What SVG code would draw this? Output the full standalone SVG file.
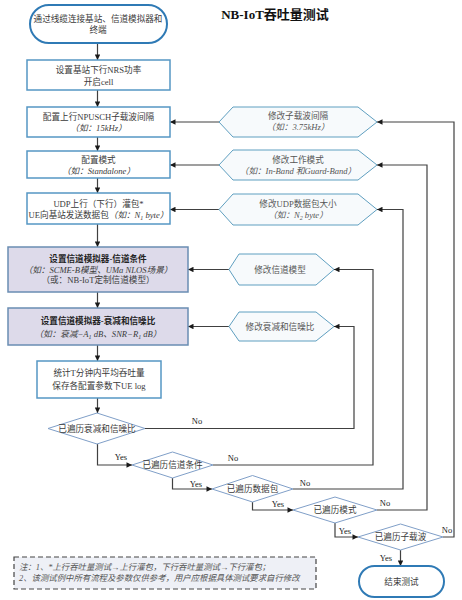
<svg xmlns="http://www.w3.org/2000/svg" width="462" height="600" viewBox="0 0 462 600">
<defs>
<marker id="arr" viewBox="0 0 10 10" refX="10" refY="5" markerWidth="6" markerHeight="5.5" markerUnits="userSpaceOnUse" orient="auto">
<path d="M0,0 L10,5 L0,10 z" fill="#1a1a1a"/>
</marker>
<style>
text{font-family:"Liberation Serif","Noto Sans CJK SC",serif;font-size:8.6px;fill:#3a3a3a;text-anchor:middle}
.t{font-size:13px;font-weight:bold;fill:#111}
.b{font-weight:bold;fill:#222}
.i{font-style:italic}
.h{fill:#555}
.yn{font-size:8.5px;fill:#222}
.note{font-size:8.4px;fill:#555;font-style:italic;text-anchor:start}
.box{fill:#fff;stroke:#5597c4;stroke-width:1.5}
.sh{fill:#dddaea;stroke:#6a8db3;stroke-width:1.5}
.term{fill:#fff;stroke:#2f7ab5;stroke-width:2}
.hex{fill:#f7fafc;stroke:#5f9fc0;stroke-width:1}
.dia{fill:#fff;stroke:#809fc8;stroke-width:1}
.ln{fill:none;stroke:#404040;stroke-width:1.2}
.ar{fill:none;stroke:#404040;stroke-width:1.2;marker-end:url(#arr)}
</style>
</defs>
<rect width="462" height="600" fill="#fff"/>
<text class="t" x="275" y="19">NB-IoT吞吐量测试</text>

<g id="connectors">
<line class="ar" x1="97.5" y1="43" x2="97.5" y2="60"/>
<line class="ar" x1="97.5" y1="90" x2="97.5" y2="107"/>
<line class="ar" x1="97.5" y1="137" x2="97.5" y2="151"/>
<line class="ar" x1="97.5" y1="178" x2="97.5" y2="193"/>
<line class="ar" x1="97.5" y1="224" x2="97.5" y2="247"/>
<line class="ar" x1="97.5" y1="292" x2="97.5" y2="308"/>
<line class="ar" x1="97.5" y1="345" x2="97.5" y2="361"/>
<line class="ar" x1="97.5" y1="398" x2="97.5" y2="413"/>
<line class="ar" x1="219" y1="122" x2="170" y2="122"/>
<line class="ar" x1="219" y1="165" x2="170" y2="165"/>
<line class="ar" x1="219" y1="209.5" x2="170" y2="209.5"/>
<line class="ar" x1="229" y1="269.5" x2="188" y2="269.5"/>
<line class="ar" x1="229" y1="326.5" x2="188" y2="326.5"/>
<polyline class="ar" points="145,428.5 354,428.5 354,326.5 334,326.5"/>
<polyline class="ar" points="213,465 373,465 373,269.5 334,269.5"/>
<polyline class="ar" points="293,489 403,489 403,209.5 377,209.5"/>
<polyline class="ar" points="377,510 427,510 427,165 377,165"/>
<polyline class="ar" points="443,537 454,537 454,122 377,122"/>
<polyline class="ar" points="97.5,444 97.5,465 132,465"/>
<polyline class="ar" points="172.5,478 172.5,489 212,489"/>
<polyline class="ar" points="252.5,502 252.5,510 293,510"/>
<polyline class="ar" points="335,523 335,537 358,537"/>
<line class="ar" x1="400.5" y1="550" x2="400.5" y2="566"/>
<text class="yn" x="121" y="460">Yes</text>
<text class="yn" x="196" y="486.5">Yes</text>
<text class="yn" x="278" y="506.5">Yes</text>
<text class="yn" x="345" y="533.5">Yes</text>
<text class="yn" x="386" y="561">Yes</text>
<text class="yn" x="197" y="424">No</text>
<text class="yn" x="233" y="461">No</text>
<text class="yn" x="305" y="486">No</text>
<text class="yn" x="385" y="506">No</text>
<text class="yn" x="447" y="533">No</text>
</g>

<g id="start">
<rect class="term" x="30" y="5" width="137" height="38" rx="19"/>
<text x="98" y="21.5">通过线缆连接基站、信道模拟器和</text>
<text x="98" y="33">终端</text>
</g>
<g id="nrs">
<rect class="box" x="27" y="60" width="143" height="30"/>
<text x="98.5" y="73">设置基站下行NRS功率</text>
<text x="98.5" y="84.5">开启cell</text>
</g>
<g id="npusch">
<rect class="box" x="27" y="107" width="143" height="30"/>
<text x="98.5" y="120">配置上行NPUSCH子载波间隔</text>
<text class="i" x="98.5" y="131">（如：15kHz）</text>
</g>
<g id="mode">
<rect class="box" x="27" y="151" width="143" height="27"/>
<text x="98.5" y="162.5">配置模式</text>
<text class="i" x="98.5" y="174">（如：Standalone）</text>
</g>
<g id="udp">
<rect class="box" x="27" y="193" width="143" height="31"/>
<text x="98.5" y="206.5">UDP上行（下行）灌包*</text>
<text x="98.5" y="218">UE向基站发送数据包<tspan class="i">（如：N<tspan font-size="6" dy="2">1</tspan><tspan dy="-2"> byte</tspan>）</tspan></text>
</g>
<g id="channel">
<rect class="sh" x="8" y="247" width="180" height="45"/>
<text class="b" x="98" y="261.5">设置信道模拟器-信道条件</text>
<text class="i" x="98" y="272.5">（如：SCME-B模型、UMa NLOS场景）</text>
<text x="98" y="283">（或：NB-IoT定制信道模型）</text>
</g>
<g id="atten">
<rect class="sh" x="8" y="308" width="180" height="37"/>
<text class="b" x="98" y="324">设置信道模拟器-衰减和信噪比</text>
<text class="i" x="98" y="336.5">（如：衰减−A<tspan font-size="6" dy="2">1</tspan><tspan dy="-2"> dB、SNR−R</tspan><tspan font-size="6" dy="2">1</tspan><tspan dy="-2"> dB）</tspan></text>
</g>
<g id="stat">
<rect class="box" x="37" y="361" width="124" height="37"/>
<text x="99" y="376">统计T分钟内平均吞吐量</text>
<text x="99" y="388.5">保存各配置参数下UE log</text>
</g>

<g id="hex-subcarrier">
<polygon class="hex" points="219,122 233,107 358,107 377,122 358,137 233,137"/>
<text class="h" x="298" y="118.5">修改子载波间隔</text>
<text class="h i" x="298" y="130">（如：3.75kHz）</text>
</g>
<g id="hex-mode">
<polygon class="hex" points="219,165 233,150 358,150 377,165 358,180 233,180"/>
<text class="h" x="298" y="162.5">修改工作模式</text>
<text class="h i" x="298" y="174">（如：In-Band 和Guard-Band）</text>
</g>
<g id="hex-udp">
<polygon class="hex" points="219,209.5 233,194 358,194 377,209.5 358,225 233,225"/>
<text class="h" x="298" y="206.5">修改UDP数据包大小</text>
<text class="h i" x="298" y="218">（如：N<tspan font-size="6" dy="2">2</tspan><tspan dy="-2"> byte</tspan>）</text>
</g>
<g id="hex-channel">
<polygon class="hex" points="229,269.5 239,254 316,254 334,269.5 316,285 239,285"/>
<text class="h" x="280" y="272.5">修改信道模型</text>
</g>
<g id="hex-atten">
<polygon class="hex" points="229,326.5 239,312 316,312 334,326.5 316,341 239,341"/>
<text class="h" x="280" y="329.5">修改衰减和信噪比</text>
</g>

<g id="d-atten">
<polygon class="dia" points="48,428.5 97,413 145,428.5 97,444"/>
<text x="97" y="431.5">已遍历衰减和信噪比</text>
</g>
<g id="d-channel">
<polygon class="dia" points="132,465 172.5,452 213,465 172.5,478"/>
<text x="172.5" y="468">已遍历信道条件</text>
</g>
<g id="d-packet">
<polygon class="dia" points="212,489 252.5,475.5 293,489 252.5,502"/>
<text x="252.5" y="492">已遍历数据包</text>
</g>
<g id="d-mode">
<polygon class="dia" points="293,510 335,497 377,510 335,523"/>
<text x="335" y="513">已遍历模式</text>
</g>
<g id="d-sub">
<polygon class="dia" points="358,537 400.5,524 443,537 400.5,550"/>
<text x="400.5" y="540">已遍历子载波</text>
</g>
<g id="end">
<rect class="term" x="359" y="566" width="85" height="31" rx="15.5"/>
<text x="401.5" y="585">结束测试</text>
</g>
<g id="note">
<rect x="14" y="557" width="302" height="32" fill="#eef0f6" stroke="#444" stroke-width="1.2" stroke-dasharray="5,3"/>
<text class="note" x="19" y="570">注：1、*上行吞吐量测试→上行灌包，下行吞吐量测试→下行灌包；</text>
<text class="note" x="19" y="581">2、该测试例中所有流程及参数仅供参考，用户应根据具体测试要求自行修改</text>
</g>
</svg>
